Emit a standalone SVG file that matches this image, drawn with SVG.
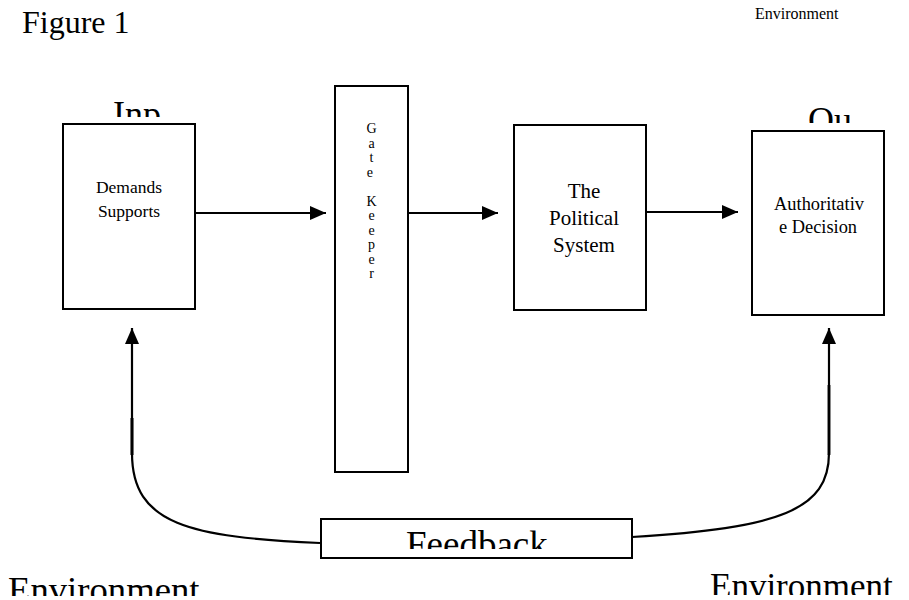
<svg xmlns="http://www.w3.org/2000/svg" width="909" height="600" viewBox="0 0 909 600">
<style>
.box{fill:#fff;stroke:#000;stroke-width:2}
.t{font-family:"Liberation Serif","Times New Roman",serif;fill:#000}
.conn{fill:none;stroke:#000;stroke-width:2.2}
</style>
<defs>
<marker id="ah" viewBox="0 0 16 14" refX="16" refY="7" markerWidth="16" markerHeight="14" markerUnits="userSpaceOnUse" orient="auto">
<path d="M0,0 L16,7 L0,14 Z" fill="#000"/>
</marker>
<clipPath id="cInp"><rect x="100" y="90" width="80" height="27"/></clipPath>
<clipPath id="cOu"><rect x="795" y="95" width="80" height="28"/></clipPath>
<clipPath id="cFb"><rect x="322" y="520" width="308" height="29"/></clipPath>
<clipPath id="cEnvL"><rect x="0" y="560" width="260" height="36"/></clipPath>
<clipPath id="cEnvR"><rect x="690" y="560" width="219" height="35"/></clipPath>
</defs>
<rect width="909" height="600" fill="#fff"/>

<text class="t" x="22" y="33" font-size="32">Figure 1</text>
<text class="t" x="755" y="19" font-size="16">Environment</text>

<text class="t" x="113" y="126" font-size="36" clip-path="url(#cInp)">Inp</text>
<text class="t" x="808" y="132" font-size="36" clip-path="url(#cOu)">Ou</text>

<g id="connectors">
<line class="conn" x1="196" y1="213" x2="326" y2="213" marker-end="url(#ah)"/>
<line class="conn" x1="409" y1="213" x2="498" y2="213" marker-end="url(#ah)"/>
<line class="conn" x1="646" y1="212" x2="738" y2="212" marker-end="url(#ah)"/>
<path class="conn" d="M320,543 C190,537 132,525 132,453 L132,328" marker-end="url(#ah)"/>
<path class="conn" d="M632,537 C780,528 829,510 829,453 L829,328" marker-end="url(#ah)"/>
<line x1="132" y1="418" x2="132" y2="455" stroke="#000" stroke-width="3"/>
<line x1="829" y1="385" x2="829" y2="455" stroke="#000" stroke-width="2.8"/>
</g>

<g id="demands">
<rect class="box" x="63" y="124" width="132" height="185"/>
<text class="t" font-size="17.5" text-anchor="middle"><tspan x="129" y="193">Demands</tspan><tspan x="129" y="217">Supports</tspan></text>
</g>

<g id="gatekeeper">
<rect class="box" x="335" y="86" width="73" height="386"/>
<text class="t" font-size="14" text-anchor="middle">
<tspan x="371.5" y="133">G</tspan><tspan x="371.5" y="147.5">a</tspan><tspan x="371.5" y="162">t</tspan><tspan x="371.5" y="176.5">e</tspan>
<tspan x="371.5" y="205.5">K</tspan><tspan x="371.5" y="220">e</tspan><tspan x="371.5" y="234.5">e</tspan><tspan x="371.5" y="249">p</tspan><tspan x="371.5" y="263.5">e</tspan><tspan x="371.5" y="278">r</tspan>
</text>
</g>

<g id="political">
<rect class="box" x="514" y="125" width="132" height="185"/>
<text class="t" font-size="21" text-anchor="middle"><tspan x="584" y="198">The</tspan><tspan x="584" y="225">Political</tspan><tspan x="584" y="252">System</tspan></text>
</g>

<g id="decision">
<rect class="box" x="752" y="131" width="132" height="184"/>
<text class="t" font-size="18.4" text-anchor="middle"><tspan x="819" y="210">Authoritativ</tspan><tspan x="818" y="233">e Decision</tspan></text>
</g>

<g id="feedback">
<rect class="box" x="321" y="519" width="311" height="39"/>
<text class="t" x="406" y="557" font-size="37" clip-path="url(#cFb)">Feedback</text>
</g>

<text class="t" x="8" y="602" font-size="36.7" clip-path="url(#cEnvL)">Environment</text>
<text class="t" x="710" y="598" font-size="35" clip-path="url(#cEnvR)">Environment</text>
</svg>
